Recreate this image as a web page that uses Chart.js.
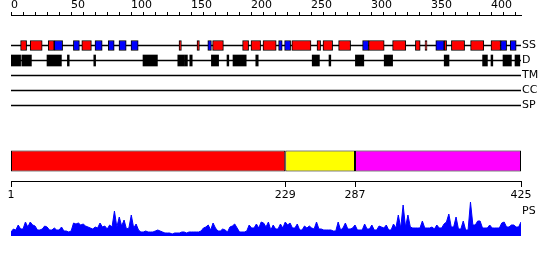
<!DOCTYPE html>
<html>
<head>
<meta charset="utf-8">
<script src="https://cdn.jsdelivr.net/npm/chart.js@4"></script>
<style>
  body { margin: 0; background: #fff; }
  .box { position: absolute; left: 0; width: 550px; }
</style>
</head>
<body>
<div class="box" style="top:0"><canvas id="ruler" width="550" height="18"></canvas></div>
<div class="box" style="top:28px"><canvas id="tracks" width="550" height="95"></canvas></div>
<div class="box" style="top:141px"><canvas id="domains" width="550" height="60"></canvas></div>
<div class="box" style="top:186px"><canvas id="ps" width="550" height="60"></canvas></div>
<script>
const seqLength = 425;
const trackLabels = ["SS", "D", "TM", "CC", "SP"];

// secondary structure, residue ranges
const helixRanges = [[8, 13], [16, 26], [31, 36], [59, 67], [140, 142], [155, 157], [168, 177], [193, 198],
  [200, 208], [210, 221], [234, 250], [255, 258], [260, 268], [273, 283], [298, 311], [318, 329],
  [337, 341], [345, 346.7], [361, 363], [367, 378], [383, 394], [400, 408]];
const strandRanges = [[36, 43], [52, 57], [70, 76], [81, 86], [90, 96], [100, 106], [164, 167],
  [223, 226], [228, 233], [293, 298], [354, 361], [408, 413], [416, 421]];
const disorderRanges = [[0, 8], [9, 17], [30, 42], [47, 48.5], [69, 70.5], [110, 122], [139, 144],
  [144.5, 147], [149, 151], [167, 173], [180, 181.5], [185, 196], [204, 206], [251, 257], [265, 266.5],
  [287, 294], [311, 318], [361, 365], [393, 397], [400, 401.5], [410, 417], [420, 424]];

const domainBounds = [1, 229, 287, 425];

// PS profile, one value every 2 residues starting at 0
const psStep = 2;
const psValues = [4, 7, 6, 11, 7, 7, 14, 9, 14, 11, 10, 6, 6, 7, 10, 9, 6, 6, 8, 6,
  6, 9, 5, 5, 4, 5, 13, 12, 13, 11, 12, 10, 9, 8, 7, 9, 8, 13, 9, 10,
  7, 11, 9, 25, 9, 19, 10, 16, 7, 8, 21, 8, 12, 6, 4, 4, 5, 4, 4, 4,
  5, 6, 5, 4, 3, 3, 3, 2, 3, 3, 3, 4, 4, 3, 4, 4, 4, 4, 4, 5,
  8, 9, 11, 6, 13, 8, 5, 5, 7, 6, 4, 9, 10, 12, 8, 4, 4, 4, 5, 11,
  8, 8, 12, 8, 14, 13, 9, 14, 6, 11, 7, 7, 12, 8, 14, 11, 13, 8, 8, 12,
  6, 6, 10, 8, 10, 8, 7, 14, 7, 7, 6, 6, 6, 6, 5, 5, 14, 6, 8, 13,
  7, 7, 8, 11, 6, 6, 6, 12, 7, 7, 11, 6, 6, 10, 9, 8, 11, 6, 6, 12,
  8, 21, 8, 31, 9, 21, 9, 8, 8, 8, 8, 15, 8, 8, 8, 9, 7, 11, 8, 8,
  12, 14, 22, 9, 9, 19, 7, 7, 15, 6, 6, 34, 11, 11, 15, 15, 8, 8, 8, 11,
  8, 8, 8, 8, 13, 14, 9, 9, 11, 11, 9, 9, 14];

const font = { family: "DejaVu Sans", size: 11 };
const base = {
  responsive: false,
  animation: false,
  events: [],
  plugins: { legend: { display: false }, tooltip: { enabled: false } }
};

// top ruler
new Chart(document.getElementById("ruler"), {
  type: "scatter",
  data: { datasets: [{ data: [] }] },
  options: {
    ...base,
    layout: { padding: { left: 11, right: 29 } },
    scales: {
      x: {
        type: "linear", position: "top", min: 0, max: seqLength,
        afterFit: s => { s.height = 15; },
        grid: { drawOnChartArea: false, tickLength: 3, color: "#000" },
        border: { color: "#000" },
        ticks: {
          stepSize: 10, includeBounds: false, autoSkip: false, maxRotation: 0,
          align: "start", padding: 0, color: "#000", font,
          callback: v => (v % 50 === 0 ? String(v) : "")
        }
      },
      y: { display: false, min: 0, max: 1 }
    }
  }
});

// SS / D / TM / CC / SP tracks
new Chart(document.getElementById("tracks"), {
  type: "bar",
  data: {
    labels: trackLabels,
    datasets: [
      {
        data: helixRanges.map(r => ({ y: "SS", x: r })),
        backgroundColor: "#ff0000", borderColor: "#000", borderWidth: 1, borderSkipped: false,
        barThickness: 10, grouped: false, order: 0
      },
      {
        data: strandRanges.map(r => ({ y: "SS", x: r })),
        backgroundColor: "#0000ff", borderColor: "#000", borderWidth: 1, borderSkipped: false,
        barThickness: 10, grouped: false, order: 0
      },
      {
        data: disorderRanges.map(r => ({ y: "D", x: r })),
        backgroundColor: "#000", barThickness: 11, grouped: false, order: 0
      },
      {
        data: trackLabels.map(l => ({ y: l, x: [0, seqLength] })),
        backgroundColor: "#000", barThickness: 1, grouped: false, order: 1
      }
    ]
  },
  options: {
    ...base,
    indexAxis: "y",
    layout: { padding: { left: 11, top: 10, bottom: 10 } },
    scales: {
      x: { type: "linear", display: false, min: 0, max: seqLength },
      y: {
        position: "right",
        afterFit: s => { s.width = 29; },
        grid: { display: false, drawTicks: false },
        border: { display: false },
        ticks: { padding: 1, autoSkip: false, color: "#000", font }
      }
    }
  }
});

// domain bar with boundary axis
new Chart(document.getElementById("domains"), {
  type: "bar",
  data: {
    labels: ["domains"],
    datasets: [{
      data: domainBounds.slice(1).map((b, i) => ({ y: "domains", x: [domainBounds[i], b] })),
      backgroundColor: ["#ff0000", "#ffff00", "#ff00ff"],
      borderColor: "#000", borderWidth: 1, borderSkipped: false,
      barThickness: 21, grouped: false, inflateAmount: 0
    }]
  },
  options: {
    ...base,
    indexAxis: "y",
    layout: { padding: { left: 11, right: 29 } },
    scales: {
      x: {
        type: "linear", position: "bottom", min: 1, max: seqLength,
        afterFit: s => { s.height = 20; },
        afterBuildTicks: s => { s.ticks = domainBounds.map(v => ({ value: v })); },
        grid: { drawOnChartArea: false, tickLength: 6, color: "#000" },
        border: { color: "#000" },
        ticks: { autoSkip: false, maxRotation: 0, padding: 2, color: "#000", font }
      },
      y: { display: false }
    }
  }
});

// PS profile
new Chart(document.getElementById("ps"), {
  type: "line",
  data: {
    datasets: [{
      data: psValues.map((v, i) => ({ x: i * psStep, y: v })),
      borderColor: "#0000ff", backgroundColor: "#0000ff", borderWidth: 1,
      pointRadius: 0, fill: "origin", tension: 0
    }]
  },
  options: {
    ...base,
    layout: { padding: { left: 11, top: 10, bottom: 10 } },
    scales: {
      x: { type: "linear", display: false, min: 0, max: seqLength - 1 },
      y: {
        position: "right", min: 0, max: 40,
        afterFit: s => { s.width = 29; },
        afterBuildTicks: s => { s.ticks = [{ value: 25 }]; },
        grid: { display: false, drawTicks: false },
        border: { display: false },
        ticks: { padding: 1, color: "#000", font, callback: () => "PS" }
      }
    }
  }
});
</script>
</body>
</html>
